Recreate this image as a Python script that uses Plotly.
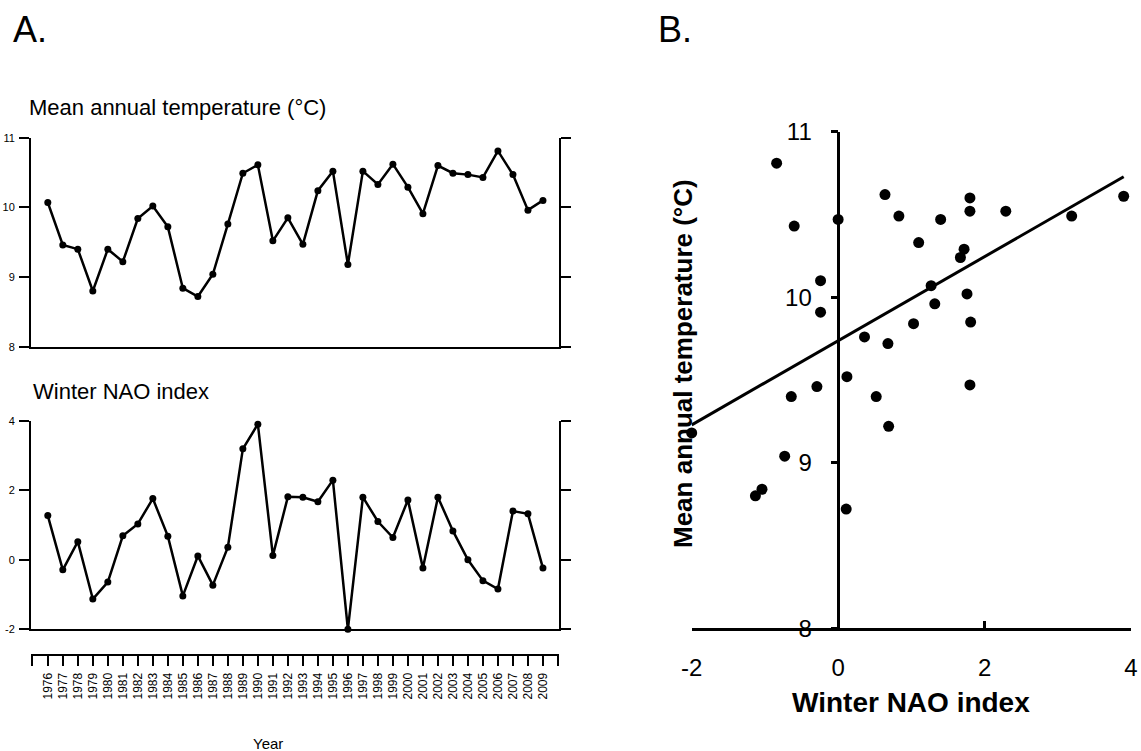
import numpy as np
import plotly.graph_objects as go

# ---------------- data ----------------
years = list(range(1976, 2010))
mean_temp = [10.07, 9.46, 9.40, 8.80, 9.40, 9.22, 9.84, 10.02, 9.72, 8.84,
             8.72, 9.04, 9.76, 10.49, 10.61, 9.52, 9.85, 9.47, 10.24, 10.52,
             9.18, 10.52, 10.33, 10.62, 10.29, 9.91, 10.60, 10.49, 10.47, 10.43,
             10.81, 10.47, 9.96, 10.10]
winter_nao = [1.27, -0.29, 0.52, -1.13, -0.64, 0.69, 1.03, 1.76, 0.68, -1.04,
              0.11, -0.73, 0.36, 3.19, 3.90, 0.12, 1.81, 1.80, 1.67, 2.29,
              -2.00, 1.80, 1.10, 0.64, 1.72, -0.24, 1.80, 0.83, 0.00, -0.60,
              -0.84, 1.40, 1.32, -0.24]
temp_ticks = [8, 9, 10, 11]
temp_tick_text = ["8", "9", "10", "11"]
nao_ticks = [-2, 0, 2, 4]
nao_tick_text = ["-2", "0", "2", "4"]

# ---------------- layout helpers ----------------
W, H = 1141, 751
def px(x):
    return x / W
def py(y):
    return 1 - y / H

FONT = "Liberation Sans, Arial, sans-serif"
BLACK = "#000000"

year_lo, year_hi = years[0] - 1.12, years[-1] + 1.07

# regression line for panel B
slope, intercept = np.polyfit(winter_nao, mean_temp, 1)
fit_x = np.array([min(winter_nao), max(winter_nao)])
fit_y = intercept + slope * fit_x

fig = go.Figure()

# Panel A, top: temperature
fig.add_trace(go.Scatter(x=years, y=mean_temp, mode="lines+markers",
                         line=dict(color=BLACK, width=2.5),
                         marker=dict(color=BLACK, size=7),
                         xaxis="x", yaxis="y", showlegend=False, cliponaxis=False))
# Panel A, bottom: NAO line (on the panel axis) and markers (on the year axis)
fig.add_trace(go.Scatter(x=years, y=winter_nao, mode="lines",
                         line=dict(color=BLACK, width=2.5),
                         xaxis="x2", yaxis="y2", showlegend=False, cliponaxis=False))
fig.add_trace(go.Scatter(x=years, y=winter_nao, mode="markers",
                         marker=dict(color=BLACK, size=7),
                         xaxis="x4", yaxis="y2", showlegend=False, cliponaxis=False))
# Panel B
fig.add_trace(go.Scatter(x=fit_x, y=fit_y, mode="lines",
                         line=dict(color=BLACK, width=3),
                         xaxis="x3", yaxis="y3", showlegend=False, cliponaxis=False))
fig.add_trace(go.Scatter(x=winter_nao, y=mean_temp, mode="markers",
                         marker=dict(color=BLACK, size=11),
                         xaxis="x3", yaxis="y3", showlegend=False, cliponaxis=False))

common_hidden_x = dict(showline=True, linecolor=BLACK, linewidth=2, ticks="",
                       showticklabels=False, showgrid=False, zeroline=False,
                       range=[year_lo, year_hi], automargin=False)
left_y = dict(showline=True, linecolor=BLACK, linewidth=2, ticks="outside",
              ticklen=10, tickwidth=2, tickcolor=BLACK, showgrid=False,
              mirror="ticks", zeroline=False, automargin=False,
              tickfont=dict(family=FONT, size=11, color=BLACK),
              ticklabelstandoff=2)

dom_x_a = [px(31), px(559)]

fig.update_layout(
    width=W, height=H,
    margin=dict(l=0, r=0, t=0, b=0, pad=0, autoexpand=False),
    paper_bgcolor="white", plot_bgcolor="white",
    font=dict(family=FONT, color=BLACK),
    xaxis=dict(domain=dom_x_a, anchor="y", **common_hidden_x),
    yaxis=dict(domain=[py(346.7), py(137.7)], anchor="x", range=[8, 11],
               tickvals=temp_ticks, ticktext=temp_tick_text, **left_y),
    xaxis2=dict(domain=dom_x_a, anchor="y2", **common_hidden_x),
    yaxis2=dict(domain=[py(629.3), py(420.7)], anchor="x2", range=[-2, 4],
                tickvals=nao_ticks, ticktext=nao_tick_text, **left_y),
    xaxis4=dict(overlaying="x2", anchor="free", position=py(655), side="bottom",
                range=[year_lo, year_hi], showline=True, linecolor=BLACK,
                linewidth=2, ticks="outside", ticklen=10, tickwidth=2,
                tickcolor=BLACK, showgrid=False, zeroline=False, automargin=False,
                tickvals=[year_lo + 0.05] + years + [year_hi - 0.05],
                ticktext=[""] + [str(y) for y in years] + [""],
                tickangle=-90, tickfont=dict(family=FONT, size=12, color=BLACK),
                ticklabelstandoff=2),
    xaxis3=dict(domain=[px(691.7), px(1131)], anchor="y3", range=[-2, 4],
                showline=True, linecolor=BLACK, linewidth=2.5, ticks="inside",
                ticklen=8, tickwidth=2.5, tickcolor=BLACK, tickvals=nao_ticks,
                ticktext=nao_tick_text, showgrid=False, zeroline=False,
                automargin=False,
                tickfont=dict(family=FONT, size=24, color=BLACK),
                ticklabelstandoff=16),
    yaxis3=dict(domain=[py(628.3), py(131.7)], anchor="free", position=px(838.3),
                range=[8, 11], showline=True, linecolor=BLACK, linewidth=2.5,
                ticks="outside", ticklen=7, tickwidth=2.5, tickcolor=BLACK,
                tickvals=temp_ticks, ticktext=temp_tick_text, showgrid=False,
                zeroline=False, automargin=False,
                tickfont=dict(family=FONT, size=24, color=BLACK),
                ticklabelstandoff=14),
)

ann = [
    dict(text="A.", x=px(11), y=py(29), xanchor="left", yanchor="middle",
         font=dict(size=36)),
    dict(text="B.", x=px(656), y=py(29), xanchor="left", yanchor="middle",
         font=dict(size=36)),
    dict(text="Mean annual temperature (°C)", x=px(27), y=py(108),
         xanchor="left", yanchor="middle", font=dict(size=22)),
    dict(text="Winter NAO index", x=px(31), y=py(391), xanchor="left",
         yanchor="middle", font=dict(size=22)),
    dict(text="Year", x=px(268), y=py(743), xanchor="center", yanchor="middle",
         font=dict(size=15)),
    dict(text="<b>Winter NAO index</b>", x=px(911), y=py(702), xanchor="center",
         yanchor="middle", font=dict(size=28)),
    dict(text="<b>Mean annual temperature (°C)</b>", x=px(683), y=py(364),
         xanchor="center", yanchor="middle", textangle=-90,
         font=dict(size=26)),
]
for a in ann:
    a.update(xref="paper", yref="paper", showarrow=False)
    a["font"].update(family=FONT, color=BLACK)
fig.update_layout(annotations=ann)

fig.write_html("out.html")
